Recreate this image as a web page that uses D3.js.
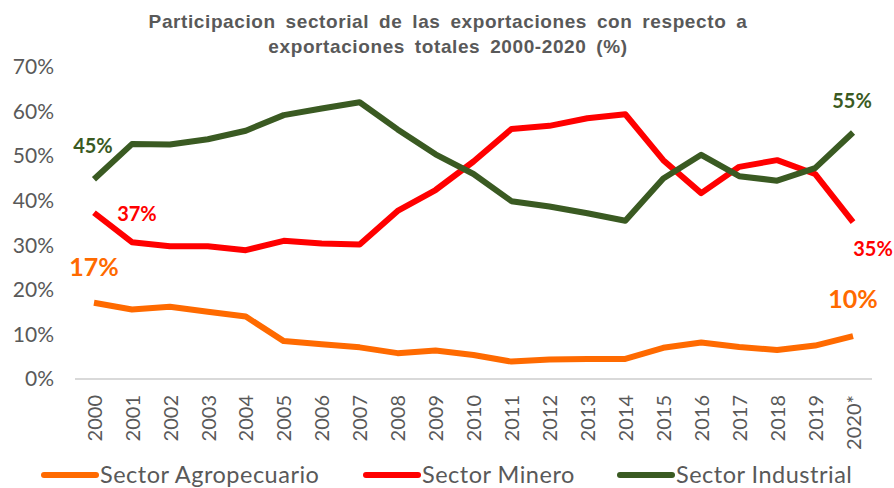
<!DOCTYPE html>
<html>
<head>
<meta charset="utf-8">
<script src="https://cdn.jsdelivr.net/npm/d3@7"></script>
<style>
  body { margin: 0; background: #fff; }
  svg { display: block; }
</style>
</head>
<body>
<svg width="894" height="488"></svg>
<script>
// datos
const years = ['2000','2001','2002','2003','2004','2005','2006','2007','2008','2009','2010',
               '2011','2012','2013','2014','2015','2016','2017','2018','2019','2020*'];
const agropecuario = [17.1,15.6,16.2,15.1,14.0,8.5,7.8,7.1,5.8,6.4,5.4,3.9,4.4,4.5,4.5,7.0,8.2,7.2,6.5,7.5,9.6];
const minero = [37.3,30.7,29.8,29.8,28.9,31.0,30.4,30.2,37.7,42.4,48.8,56.1,56.8,58.5,59.4,49.1,41.7,47.6,49.1,46.0,35.2];
const industrial = [44.8,52.7,52.6,53.8,55.7,59.2,60.7,62.1,56.0,50.4,46.0,39.9,38.7,37.2,35.5,45.0,50.3,45.5,44.5,47.3,55.3];
const yTicks = [0,10,20,30,40,50,60,70];
const seriesNames = ['Sector Agropecuario','Sector Minero','Sector Industrial'];
const seriesColors = ['#ff6a00','#ff0000','#3a5a22'];
const titleLines = ['Participacion sectorial de las exportaciones con respecto a',
                    'exportaciones totales 2000-2020 (%)'];

const svg = d3.select('svg');
const font = 'Lato, "Open Sans", sans-serif';
const grey = '#595959';

const x = d3.scalePoint().domain(years).range([75, 872]).padding(0.5);
const y = d3.scaleLinear().domain([0, 70]).range([379, 67]);

// titulo
svg.append('g').selectAll('text')
  .data(titleLines)
  .enter().append('text')
    .attr('x', 448)
    .attr('y', (d, i) => 28 + i * 24.5)
    .attr('text-anchor', 'middle')
    .attr('font-family', '"Liberation Sans", Arial, sans-serif')
    .attr('font-weight', 'bold')
    .attr('font-size', 19)
    .attr('letter-spacing', 0.6)
    .attr('word-spacing', 4)
    .attr('fill', grey)
    .text(d => d);

// eje y
const yAxis = svg.append('g')
  .attr('transform', 'translate(54,0)')
  .call(d3.axisLeft(y).tickValues(yTicks).tickSize(0).tickPadding(0).tickFormat(d => d + '%'));
yAxis.select('.domain').remove();
yAxis.selectAll('text')
  .attr('font-family', font)
  .attr('font-size', 21)
  .attr('fill', grey);

// eje x
const xAxis = svg.append('g')
  .attr('transform', 'translate(0,379)')
  .call(d3.axisBottom(x).tickSize(0).tickPadding(0));
xAxis.select('.domain')
  .attr('d', 'M75,0H872')
  .attr('stroke', '#d9d9d9')
  .attr('stroke-width', 2);
xAxis.selectAll('text')
  .attr('font-family', font)
  .attr('font-size', 20)
  .attr('fill', grey)
  .attr('transform', 'rotate(-90)')
  .attr('text-anchor', 'end')
  .attr('x', -16)
  .attr('y', 0)
  .attr('dy', '0.36em');

// lineas
const series = [agropecuario, minero, industrial];
const line = d3.line()
  .x((d, i) => x(years[i]))
  .y(d => y(d));

svg.append('g').selectAll('path')
  .data(series)
  .enter().append('path')
    .attr('d', line)
    .attr('fill', 'none')
    .attr('stroke', (d, i) => seriesColors[i])
    .attr('stroke-width', 6)
    .attr('stroke-linejoin', 'round');

// etiquetas de inicio y fin
const last = years.length - 1;
const labels = [
  {s: 0, i: 0, dx: 0, dy: -27, size: 25},
  {s: 0, i: last, dx: 0, dy: -28, size: 25},
  {s: 1, i: 0, dx: 43, dy: 8, size: 20},
  {s: 1, i: last, dx: 20, dy: 34, size: 20},
  {s: 2, i: 0, dx: -1, dy: -26, size: 20},
  {s: 2, i: last, dx: -1, dy: -25, size: 20}
];
svg.append('g').selectAll('text')
  .data(labels)
  .enter().append('text')
    .attr('x', d => x(years[d.i]) + d.dx)
    .attr('y', d => y(series[d.s][d.i]) + d.dy)
    .attr('text-anchor', 'middle')
    .attr('font-family', font)
    .attr('font-weight', 'bold')
    .attr('font-size', d => d.size)
    .attr('fill', d => seriesColors[d.s])
    .text(d => Math.round(series[d.s][d.i]) + '%');

// leyenda
const legendX = [44, 366, 620];
const legend = svg.append('g').selectAll('g')
  .data(seriesNames)
  .enter().append('g')
    .attr('transform', (d, i) => 'translate(' + legendX[i] + ',475)');
legend.append('line')
  .attr('x1', 0).attr('x2', 52)
  .attr('stroke', (d, i) => seriesColors[i])
  .attr('stroke-width', 6)
  .attr('stroke-linecap', 'round');
legend.append('text')
  .attr('x', 56)
  .attr('y', 7.5)
  .attr('font-family', font)
  .attr('font-size', 23.5)
  .attr('letter-spacing', 0.5)
  .attr('fill', grey)
  .text(d => d);
</script>
</body>
</html>
